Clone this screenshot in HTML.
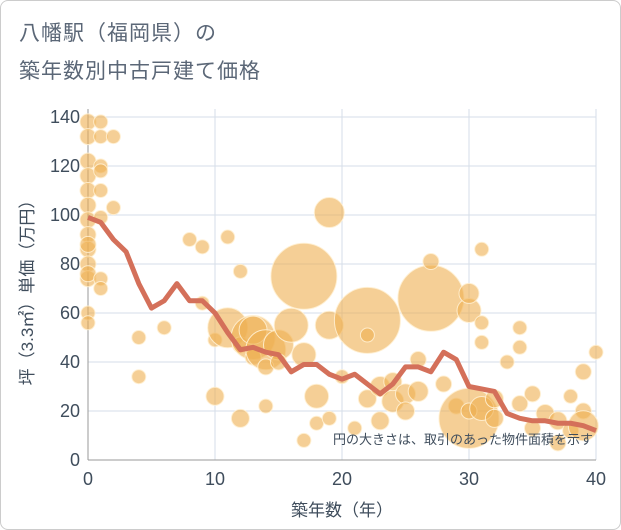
<!DOCTYPE html>
<html><head><meta charset="utf-8"><style>
body{margin:0;background:#fff;font-family:"Liberation Sans","Noto Sans CJK JP",sans-serif;}
#card{position:absolute;left:0;top:0;width:619px;height:528px;border:1px solid #ccc;border-radius:8px;background:#fff;}
.t{position:absolute;left:18px;font-size:21px;color:#5b6777;letter-spacing:1px}
</style></head><body>
<div id="card">
<div class="t" style="top:16px">八幡駅（福岡県）の</div>
<div class="t" style="top:54px">築年数別中古戸建て価格</div>
</div>
<svg id="chart" width="621" height="530" style="position:absolute;left:0;top:0"></svg>
<script>
const xTicks=[0,10,20,30,40];
const yTicks=[0,20,40,60,80,100,120,140];
const lineYears=[0,1,2,3,4,5,6,7,8,9,10,11,12,13,14,15,16,17,18,19,20,21,22,23,24,25,26,27,28,29,30,31,32,33,34,35,36,37,38,39,40];
const linePrices=[99,97,90,85,72,62,65,72,65,65,60,52,45,46,44,43,36,39,39,35,33,35,31,27,31,38,38,36,44,41,30,29,28,19,17,16,16,15,15,14,12];
const bubbleYears=[0,0,0,0,0,0,0,0,0,0,0,0,0,0,0,1,1,1,1,1,1,1,1,2,2,4,4,6,8,9,9,10,10,11,11,12,12,12,13,13,13,14,14,14,15,15,16,17,17,17,18,18,19,19,19,20,21,22,22,22,23,23,24,24,25,25,26,26,27,27,28,29,30,30,30,30,31,31,31,31,32,32,33,34,34,34,35,35,36,37,37,38,38,39,39,39,40];
const bubblePrices=[138,132,122,116,110,104,98,92,86,80,74,60,56,76,88,138,132,120,118,110,99,74,70,132,103,50,34,54,90,87,64,49,26,91,54,77,47,17,50,53,42,45,38,22,47,40,55,75,43,8,26,15,101,55,17,34,13,57,51,25,16,30,24,32,27,20,41,28,66,81,31,22,17,61,68,20,86,56,48,21,25,17,40,54,46,23,27,13,19,16,7,26,12,36,20,14,44];
const bubbleSizes=[8,8,8,8,8,8,8,8,8,8,8,7,7,8,8,7,7,7,7,7,7,7,7,7,7,7,7,7,7,7,7,7,9,7,20,7,8,9,22,14,8,20,8,7,15,8,17,33,12,7,12,7,15,14,7,7,7,33,7,9,9,10,11,9,10,9,8,10,33,8,8,8,30,12,10,8,7,7,7,12,9,9,7,7,7,8,8,8,9,9,8,7,8,8,8,15,7];
const svg=document.getElementById('chart');
const NS='http://www.w3.org/2000/svg';
const X0=88,X1=596,Y0=460,Y1=117;
const sx=v=>X0+(X1-X0)*v/40;
const sy=v=>Y0-(Y0-Y1)*v/140;
function mk(tag,attrs){const e=document.createElementNS(NS,tag);for(const k in attrs)e.setAttribute(k,attrs[k]);svg.appendChild(e);return e;}
yTicks.forEach(v=>{
 const l=mk('line',{x1:X0,x2:X1,y1:sy(v),y2:sy(v),stroke:'#d5dde8','stroke-width':1});
 
 
 const t=mk('text',{x:X0-8,y:sy(v)+6,'text-anchor':'end','font-size':18,fill:'#3f4d5c'});
 t.textContent=v;
 
 
});
xTicks.forEach(v=>{
 const l=mk('line',{x1:sx(v),x2:sx(v),y1:Y1-8,y2:Y0,stroke:'#d5dde8','stroke-width':1});
 
 
 const t=mk('text',{x:sx(v),y:Y0+25,'text-anchor':'middle','font-size':18,fill:'#3f4d5c'});
 t.textContent=v;
 
 
});
const ax=mk('line',{x1:X0,x2:X0,y1:Y1-8,y2:Y0,stroke:'#999','stroke-width':1});


const bx=mk('line',{x1:X0,x2:X1,y1:Y0,y2:Y0,stroke:'#999','stroke-width':1});


bubbleYears.forEach((yr,i)=>{
 const c=mk('circle',{cx:sx(yr),cy:sy(bubblePrices[i]),r:bubbleSizes[i],fill:'rgba(238,175,80,0.6)',stroke:'rgba(255,240,210,0.9)','stroke-width':1});
 
 
});
const pts=lineYears.map((yr,i)=>sx(yr)+','+sy(linePrices[i])).join(' ');
const pl=mk('polyline',{points:pts,fill:'none',stroke:'#d4705a','stroke-width':5,'stroke-linejoin':'round'});


const note=mk('text',{x:593,y:444,'text-anchor':'end','font-size':13,fill:'#3f4d5c'});
note.textContent='円の大きさは、取引のあった物件面積を示す';


const xt=mk('text',{x:(X0+X1)/2,y:516,'text-anchor':'middle','font-size':17,fill:'#3f4d5c'});
xt.textContent='築年数（年）';


const yt=mk('text',{x:0,y:0,'text-anchor':'middle','font-size':17,fill:'#3f4d5c',transform:'translate(33,'+((Y0+Y1)/2)+') rotate(-90)'});
yt.textContent='坪（3.3㎡）単価（万円）';


</script>
</body></html>
